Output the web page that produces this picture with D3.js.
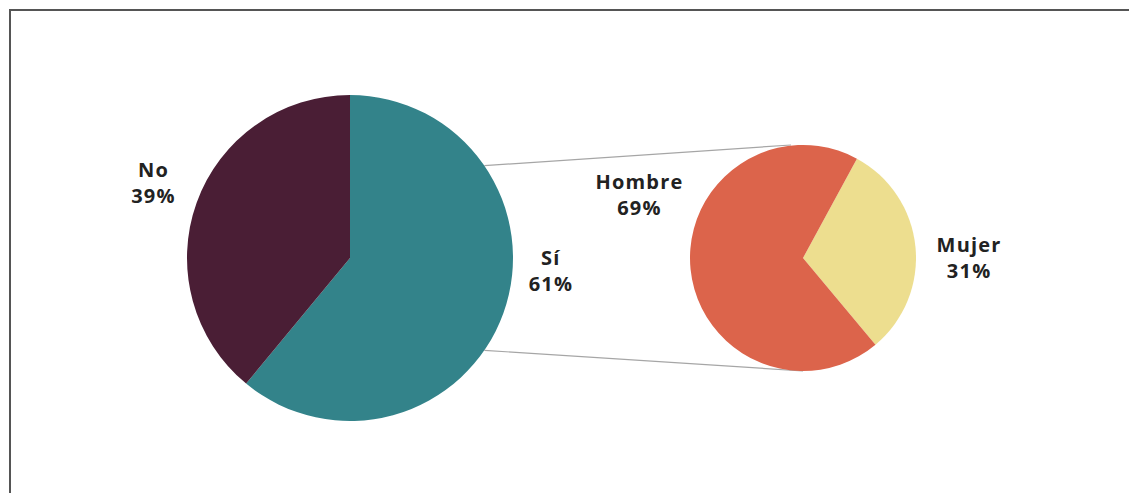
<!DOCTYPE html>
<html><head><meta charset="utf-8">
<script src="https://cdn.jsdelivr.net/npm/d3@7"></script>
<style>
html,body{margin:0;padding:0;background:#fff;overflow:hidden}
text{font-family:"Open Sans","Lato",sans-serif;font-weight:700;fill:#222;letter-spacing:1.2px}
</style></head>
<body>
<svg id="c" width="1129" height="493"></svg>
<script>
// Data
const mainCategories = ["Sí", "No"];
const mainValues = [61, 39];
const subCategories = ["Mujer", "Hombre"];
const subValues = [31, 69];

// Colours
const mainColors = ["#33838A", "#4A1E35"];
const subColors = ["#EDDE8F", "#DC644B"];

const svg = d3.select("#c");
svg.append("rect").attr("x", 10).attr("y", 10).attr("width", 1140).attr("height", 500)
  .attr("fill", "#fff").attr("stroke", "#555").attr("stroke-width", 2);

const deg = Math.PI / 180;
const big = {cx: 350, cy: 258, r: 163};
const small = {cx: 803, cy: 258, r: 113};

// connector lines (from big pie edge to top/bottom of small pie)
const connAngle = 55.5 * deg; // angle from 12 o'clock, clockwise
const gConn = svg.append("g").attr("stroke", "#a6a6a6").attr("stroke-width", 1.2).attr("fill", "none");
[[connAngle, 0], [Math.PI - connAngle, Math.PI]].forEach(([a1, a2]) => {
  gConn.append("line")
    .attr("x1", big.cx + big.r * Math.sin(a1)).attr("y1", big.cy - big.r * Math.cos(a1))
    .attr("x2", small.cx + small.r * Math.sin(a2) - (a2 === 0 ? 12 : 0)).attr("y2", small.cy - small.r * Math.cos(a2));
});

function drawPie(cfg, cats, vals, cols, startDeg, labelPos) {
  const pie = d3.pie().sort(null).value(d => d.v)
    .startAngle(startDeg * deg).endAngle(startDeg * deg + 2 * Math.PI);
  const arc = d3.arc().innerRadius(0).outerRadius(cfg.r);
  const data = cats.map((c, i) => ({c, v: vals[i], col: cols[i]}));
  const g = svg.append("g").attr("transform", `translate(${cfg.cx},${cfg.cy})`);
  const arcs = pie(data);
  g.selectAll("path").data(arcs).join("path")
    .attr("d", arc).attr("fill", d => d.data.col);
  const lg = g.selectAll("g.lbl").data(arcs).join("g").attr("class", "lbl")
    .attr("transform", (d, i) => {
      const [a, f] = labelPos[i];
      const rr = cfg.r * f;
      return `translate(${rr * Math.sin(a * deg)},${-rr * Math.cos(a * deg)})`;
    });
  lg.append("text").attr("text-anchor", "middle").attr("y", -6).attr("font-size", 20)
    .text(d => d.data.c);
  lg.append("text").attr("text-anchor", "middle").attr("y", 20).attr("font-size", 20)
    .text(d => d.data.v + "%");
}

drawPie(big, mainCategories, mainValues, mainColors, 0, [[93.7, 1.235], [290.8, 1.29]]);
drawPie(small, subCategories, subValues, subColors, 28.5, [[90, 1.47], [291, 1.55]]);
</script>
</body></html>
